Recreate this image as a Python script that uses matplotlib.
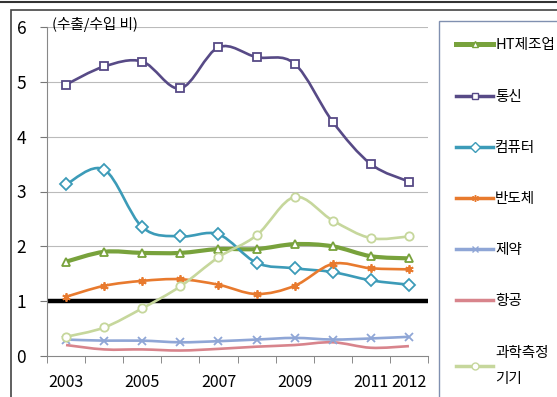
import matplotlib
matplotlib.use('Agg')
from matplotlib import pyplot as plt
from matplotlib.path import Path
from matplotlib.patches import PathPatch, Rectangle
from matplotlib.lines import Line2D

plt.rcParams['font.family'] = ['Noto Sans CJK KR', 'DejaVu Sans']

years = [2003, 2004, 2005, 2006, 2007, 2008, 2009, 2010, 2011, 2012]
year_labels = ['2003', '', '2005', '', '2007', '', '2009', '', '2011', '2012']

ht = [1.72, 1.9, 1.88, 1.88, 1.95, 1.95, 2.04, 2.0, 1.82, 1.78]
telecom = [4.95, 5.28, 5.37, 4.88, 5.63, 5.45, 5.33, 4.27, 3.5, 3.18]
computer = [3.13, 3.4, 2.35, 2.18, 2.22, 1.7, 1.6, 1.53, 1.38, 1.3]
semicon = [1.08, 1.28, 1.37, 1.4, 1.3, 1.13, 1.28, 1.68, 1.6, 1.58]
pharma = [0.3, 0.28, 0.28, 0.25, 0.27, 0.3, 0.33, 0.3, 0.32, 0.35]
aero = [0.2, 0.12, 0.12, 0.1, 0.13, 0.17, 0.2, 0.25, 0.15, 0.18]
science = [0.35, 0.52, 0.87, 1.27, 1.8, 2.2, 2.9, 2.47, 2.15, 2.18]

series = [
    ('HT제조업', ht, '#78A23C', '^', 3.0),
    ('통신', telecom, '#574A86', 's', 1.9),
    ('컴퓨터', computer, '#3C9BB8', 'D', 1.9),
    ('반도체', semicon, '#E87A2E', (6, 2, 0), 1.9),
    ('제약', pharma, '#8FA6D6', 'x', 1.9),
    ('항공', aero, '#D8848C', None, 1.9),
    ('과학측정\n기기', science, '#C6D79C', 'o', 1.9),
]


def smooth_path(xs, ys):
    # catmull-rom through the points, as bezier segments
    verts = [(xs[0], ys[0])]
    codes = [Path.MOVETO]
    n = len(xs)
    for i in range(n - 1):
        x0, y0 = (xs[i - 1], ys[i - 1]) if i > 0 else (xs[i], ys[i])
        x1, y1 = xs[i], ys[i]
        x2, y2 = xs[i + 1], ys[i + 1]
        x3, y3 = (xs[i + 2], ys[i + 2]) if i + 2 < n else (x2, y2)
        c1 = (x1 + (x2 - x0) / 6, y1 + (y2 - y0) / 6)
        c2 = (x2 - (x3 - x1) / 6, y2 - (y3 - y1) / 6)
        verts += [c1, c2, (x2, y2)]
        codes += [Path.CURVE4] * 3
    return Path(verts, codes)


fig = plt.figure(figsize=(5.57, 3.97), dpi=100)
# outer frame like the source screenshot
fig.patches.append(Rectangle((11 / 557, -0.01), 1, 1 - 10 / 397 + 0.01, transform=fig.transFigure,
                             fill=False, edgecolor='#444444', linewidth=1.2))
fig.add_artist(Line2D([0, 1], [1 - 1.5 / 397] * 2, transform=fig.transFigure,
                      color='#333333', linewidth=1.5))
ax = fig.add_axes([47 / 557, 41 / 397, 381 / 557, 329 / 397])

ax.set_xlim(2002.5, 2012.5)
ax.set_ylim(0, 6)
for y in range(1, 7):
    ax.axhline(y, color='#bbbbbb', linewidth=0.8, zorder=0)
ax.axhline(1, color='black', linewidth=3.2, zorder=1)

handles = []
for name, vals, col, mk, lw in series:
    ax.add_patch(PathPatch(smooth_path(years, vals), facecolor='none', edgecolor=col,
                           linewidth=lw, zorder=3))
    if mk is not None:
        ax.plot(years, vals, linestyle='none', marker=mk, markersize=6,
                markerfacecolor='white' if mk not in ('x', (6, 2, 0)) else col,
                markeredgecolor=col, markeredgewidth=1.3, zorder=4)
    handles.append(Line2D([], [], color=col, linewidth=lw + 0.6, marker=mk, markersize=5,
                          markerfacecolor='white', markeredgecolor=col, label=name))

ax.set_xticks(years)
ax.set_xticklabels(year_labels)
ax.set_xticks([2002.5 + k for k in range(11)], minor=True)
ax.tick_params(axis='x', which='major', length=0, labelsize=11.5, pad=13)
ax.tick_params(axis='x', which='minor', length=5, direction='out', color='#777777')
ax.set_yticks(range(7))
ax.tick_params(axis='y', length=5, labelsize=12.5, pad=10, color='#777777')
for s in ['top', 'right']:
    ax.spines[s].set_visible(False)
ax.spines['left'].set_color('#888888')
ax.spines['bottom'].set_color('#888888')

ax.text(2002.62, 6.04, '(수출/수입 비)', fontsize=10.5, va='center', ha='left')

leg = fig.legend(handles=handles, loc='upper left', bbox_to_anchor=(439 / 557, 1 - 21 / 397),
                 fontsize=10.5, labelspacing=2.55, handlelength=2.5, handletextpad=0.15,
                 borderpad=1.2, borderaxespad=0, fancybox=False, edgecolor='#8090b0',
                 framealpha=1)
leg.get_frame().set_linewidth(1.0)
leg.get_texts()[-1].set_linespacing(2.1)

fig.savefig('out.png', dpi=100)
